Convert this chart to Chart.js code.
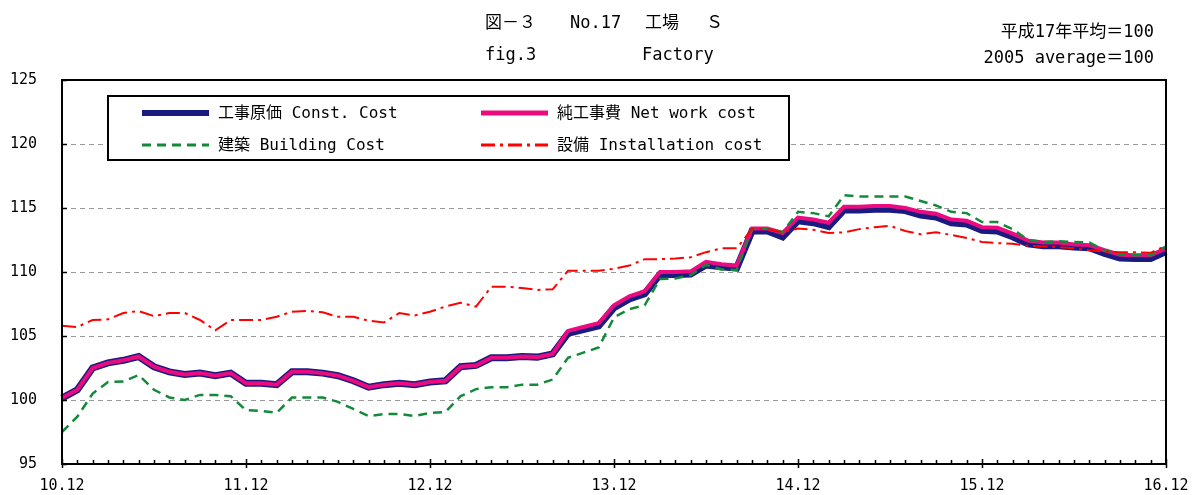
<!DOCTYPE html>
<html><head><meta charset="utf-8">
<script src="https://cdn.jsdelivr.net/npm/chart.js@4.4.0/dist/chart.umd.min.js"></script>
<style>html,body{margin:0;padding:0;background:#fff}#wrap{width:1192px;height:495px;position:relative}</style>
</head><body><div id="wrap"><canvas id="c"></canvas></div>
<script>
// ---- data ----
const tickLabels = ["10.12","11.12","12.12","13.12","14.12","15.12","16.12"];
const categories = ["10.12"];
for (let y = 11; y <= 16; y++) { for (let m = 1; m <= 12; m++) { categories.push(y + "." + String(m).padStart(2, "0")); } }

const constCost = [100.15,100.8,102.5,102.9,103.1,103.4,102.6,102.2,102.0,102.1,101.9,102.1,
  101.3,101.3,101.2,102.2,102.2,102.1,101.9,101.5,101.0,101.2,101.3,101.2,
  101.4,101.5,102.6,102.7,103.3,103.3,103.4,103.35,103.6,105.2,105.5,105.8,
  107.2,107.9,108.3,109.8,109.8,109.85,110.55,110.4,110.3,113.2,113.2,112.75,
  114.0,113.85,113.55,114.85,114.85,114.9,114.9,114.8,114.45,114.3,113.85,113.75,
  113.25,113.2,112.75,112.2,112.05,112.05,111.95,111.9,111.45,111.1,111.05,111.05,111.6];
const netWorkCost = [100.15,100.8,102.5,102.9,103.1,103.4,102.6,102.2,102.0,102.1,101.9,102.1,
  101.3,101.3,101.2,102.2,102.2,102.1,101.9,101.5,101.0,101.2,101.3,101.2,
  101.4,101.5,102.6,102.7,103.3,103.3,103.4,103.35,103.6,105.4,105.7,106.0,
  107.4,108.1,108.5,110.0,110.0,110.05,110.8,110.6,110.5,113.4,113.4,113.05,
  114.25,114.1,113.85,115.1,115.1,115.15,115.15,115.0,114.7,114.55,114.1,114.0,
  113.5,113.45,113.0,112.45,112.3,112.3,112.15,112.1,111.7,111.35,111.3,111.3,111.85];
const buildingCost = [97.5,98.7,100.5,101.4,101.45,101.95,100.8,100.2,100.0,100.4,100.4,100.3,
  99.2,99.15,99.0,100.2,100.2,100.2,99.85,99.3,98.75,98.9,98.9,98.75,
  99.0,99.05,100.3,100.85,101.0,101.0,101.2,101.2,101.6,103.3,103.7,104.1,
  106.45,107.1,107.4,109.45,109.5,109.75,110.55,110.2,110.15,113.4,113.4,113.1,
  114.7,114.6,114.35,116.0,115.9,115.9,115.9,115.9,115.55,115.2,114.7,114.6,
  113.9,113.9,113.35,112.5,112.35,112.4,112.35,112.3,111.7,111.4,111.3,111.3,112.0];
const installationCost = [105.8,105.7,106.25,106.3,106.8,106.95,106.55,106.8,106.8,106.25,105.45,106.25,
  106.25,106.25,106.5,106.9,106.95,106.85,106.5,106.5,106.2,106.05,106.8,106.6,
  106.9,107.3,107.6,107.3,108.85,108.85,108.75,108.6,108.65,110.1,110.1,110.1,
  110.25,110.5,111.0,111.0,111.05,111.15,111.55,111.85,111.85,113.35,113.35,113.1,
  113.4,113.3,113.05,113.1,113.35,113.5,113.6,113.2,112.95,113.1,112.9,112.65,
  112.35,112.25,112.2,112.05,112.0,111.95,111.85,111.7,111.6,111.55,111.55,111.5,112.05];
const seriesNames = ["工事原価 Const. Cost","純工事費 Net work cost","建築 Building Cost","設備 Installation cost"];

const FONT = "'DejaVu Sans Mono','Noto Sans CJK JP',monospace";
Chart.defaults.font.family = FONT;
Chart.defaults.color = "#000";

const decor = {
  id: "decor",
  afterDraw(chart) {
    const ctx = chart.ctx, a = chart.chartArea;
    const xs = chart.scales.x, ys = chart.scales.y;
    ctx.save();
    // frame
    ctx.strokeStyle = "#000"; ctx.lineWidth = 2;
    ctx.strokeRect(a.left, a.top, a.right - a.left, a.bottom - a.top);
    // tick marks
    ctx.lineWidth = 1.5;
    ctx.beginPath();
    for (let i = 0; i < categories.length; i++) {
      const px = Math.round(xs.getPixelForValue(i)) + 0.5;
      if (i % 12 === 0) { ctx.moveTo(px, a.bottom - 5); ctx.lineTo(px, a.bottom + 4); }
      else { ctx.moveTo(px, a.bottom - 4); ctx.lineTo(px, a.bottom); }
    }
    for (let v = 95; v <= 125; v += 5) {
      const py = Math.round(ys.getPixelForValue(v)) + 0.5;
      ctx.moveTo(a.left, py); ctx.lineTo(a.left + 5, py);
    }
    ctx.stroke();
    // legend
    const bx = 108, by = 96, bw = 681, bh = 64;
    ctx.fillStyle = "#fff"; ctx.fillRect(bx, by, bw, bh);
    ctx.strokeStyle = "#000"; ctx.lineWidth = 2; ctx.strokeRect(bx, by, bw, bh);
    const pos = [[142, 113], [481, 113], [142, 145], [481, 145]];
    ctx.font = "16px " + FONT; ctx.textBaseline = "middle"; ctx.textAlign = "left";
    chart.data.datasets.forEach((ds, k) => {
      const [x, y] = pos[k];
      ctx.save();
      ctx.strokeStyle = ds.borderColor; ctx.lineWidth = ds.legendWidth;
      ctx.setLineDash(ds.borderDash || []);
      ctx.beginPath(); ctx.moveTo(x, y); ctx.lineTo(x + 67, y); ctx.stroke();
      ctx.restore();
      ctx.fillStyle = "#000";
      ctx.fillText(ds.label, x + 76, y + 1);
    });
    // titles
    ctx.font = "17px " + FONT;
    ctx.fillText("図－３", 485, 24);
    ctx.fillText("No.17", 570, 24);
    ctx.fillText("工場", 645, 24);
    ctx.fillText("Ｓ", 706, 24);
    ctx.fillText("fig.3", 485, 56);
    ctx.fillText("Factory", 642, 56);
    ctx.textAlign = "right";
    ctx.fillText("平成17年平均＝100", 1154, 33);
    ctx.fillText("2005 average＝100", 1154, 59);
    ctx.restore();
  }
};

new Chart(document.getElementById("c"), {
  type: "line",
  data: {
    labels: categories,
    datasets: [
      { label: seriesNames[0], data: constCost, borderColor: "#1a1a80", borderWidth: 7, legendWidth: 6, order: 4 },
      { label: seriesNames[1], data: netWorkCost, borderColor: "#ec0a80", borderWidth: 4, legendWidth: 5, order: 3 },
      { label: seriesNames[2], data: buildingCost, borderColor: "#138a3a", borderWidth: 2.5, legendWidth: 3, borderDash: [9, 6], order: 2 },
      { label: seriesNames[3], data: installationCost, borderColor: "#ff0000", borderWidth: 2, legendWidth: 3, borderDash: [14, 5, 3, 5], order: 1 }
    ]
  },
  options: {
    responsive: true, maintainAspectRatio: false, animation: false,
    layout: { padding: { top: 80, right: 26, left: 0, bottom: 0 } },
    elements: { point: { radius: 0 }, line: { tension: 0, fill: false, borderCapStyle: "butt", borderJoinStyle: "miter" } },
    plugins: { legend: { display: false }, tooltip: { enabled: false } },
    scales: {
      x: {
        type: "category", offset: false,
        grid: { display: false, drawTicks: false }, border: { display: false },
        ticks: {
          autoSkip: false, maxRotation: 0, minRotation: 0, padding: 13,
          font: { size: 15 }, color: "#000",
          callback: (v, i) => (i % 12 === 0 ? tickLabels[i / 12] : "")
        },
        afterFit: s => { s.height = 31; s.paddingLeft = 0; s.paddingRight = 0; }
      },
      y: {
        min: 95, max: 125,
        grid: { color: "#999", lineWidth: 1, drawTicks: false },
        border: { display: false, dash: [5, 4] },
        ticks: { stepSize: 5, padding: 25, font: { size: 15 }, color: "#000" },
        afterFit: s => { s.width = 62; s.paddingTop = 0; s.paddingBottom = 0; }
      }
    }
  },
  plugins: [decor]
});
</script>
</body></html>
